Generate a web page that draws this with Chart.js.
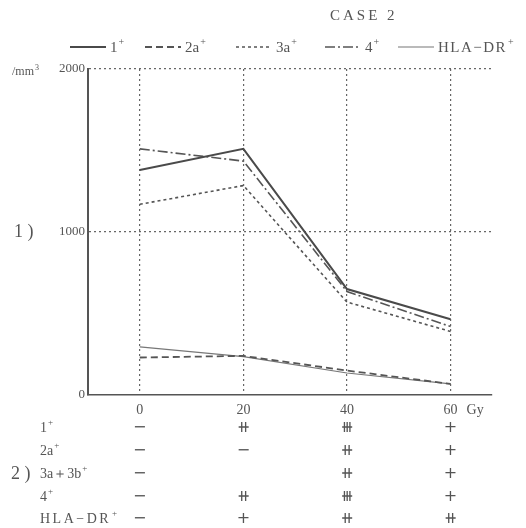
<!DOCTYPE html>
<html>
<head>
<meta charset="utf-8">
<script src="https://cdn.jsdelivr.net/npm/chart.js@4"></script>
<style>
  html, body { margin: 0; padding: 0; background: #fff; }
  #wrap { width: 526px; height: 528px; }
</style>
</head>
<body>
<div id="wrap"><canvas id="chart" width="526" height="528"></canvas></div>
<script>
// dose in Gy
const doses = [0, 20, 40, 60];
// cells /mm3
const cd1 = [1380, 1510, 650, 465];
const cd2a = [230, 240, 150, 68];
const cd3a = [1170, 1285, 570, 390];
const cd4 = [1510, 1435, 635, 420];
const hlaDr = [295, 235, 135, 68];

const yTicks = [0, 1000, 2000];

// part 2) table: row labels [base, superscript] and grades per dose
const rowLabels = [['1', '+'], ['2a', '+'], ['3a＋3b', '+'], ['4', '+'], ['HLA−DR', '+']];
const grades1 = ['-', '++', '+++', '+'];
const grades2a = ['-', '-', '++', '+'];
const grades3 = ['-', '', '++', '+'];
const grades4 = ['-', '++', '+++', '+'];
const gradesHla = ['-', '+', '++', '++'];

const INK = '#555';
const SERIF = '"Liberation Serif", "DejaVu Serif", serif';

const styles = [
  { label: '1', data: cd1, width: 2, dash: [], color: '#4a4a4a' },
  { label: '2a', data: cd2a, width: 1.8, dash: [7, 4], color: '#555' },
  { label: '3a', data: cd3a, width: 1.6, dash: [3, 3], color: '#555' },
  { label: '4', data: cd4, width: 1.6, dash: [10, 3, 2, 3], color: '#555' },
  { label: 'HLA−DR', data: hlaDr, width: 1.2, dash: [], color: '#777' }
];

function sup(ctx, base, s, x, y, size, align) {
  ctx.font = size + 'px ' + SERIF;
  const w = ctx.measureText(base).width;
  ctx.font = Math.round(size * 0.65) + 'px ' + SERIF;
  const ws = ctx.measureText(s).width;
  let x0 = x;
  if (align === 'center') x0 = x - (w + ws + 1) / 2;
  ctx.textAlign = 'left';
  ctx.textBaseline = 'middle';
  ctx.font = size + 'px ' + SERIF;
  ctx.fillText(base, x0, y);
  ctx.font = Math.round(size * 0.65) + 'px ' + SERIF;
  ctx.fillText(s, x0 + w + 1, y - size * 0.35);
}

function gradeText(g) {
  if (g === '-') return '−';
  if (g === '++') return '⧺';
  if (g === '+++') return '⧻';
  return g;
}

const annotations = {
  id: 'annotations',
  afterDraw(chart) {
    const ctx = chart.ctx;
    const xs = chart.scales.x;
    ctx.save();
    ctx.fillStyle = INK;

    // title
    ctx.font = '15px ' + SERIF;
    ctx.letterSpacing = '3px';
    ctx.textAlign = 'left';
    ctx.textBaseline = 'middle';
    ctx.fillText('CASE 2', 330, 16);
    ctx.letterSpacing = '0px';

    // legend
    const legendX = [70, 145, 236, 325, 398];
    styles.forEach((s, i) => {
      ctx.save();
      ctx.strokeStyle = s.color;
      ctx.lineWidth = s.width;
      ctx.setLineDash(s.dash);
      ctx.beginPath();
      ctx.moveTo(legendX[i], 47);
      ctx.lineTo(legendX[i] + 36, 47);
      ctx.stroke();
      ctx.restore();
      ctx.letterSpacing = i === 4 ? '1.5px' : '0px';
      sup(ctx, s.label, '+', legendX[i] + 40, 48, 15, 'left');
      ctx.letterSpacing = '0px';
    });

    // axis side labels
    sup(ctx, '/mm', '3', 12, 72, 12, 'left');
    ctx.font = '18px ' + SERIF;
    ctx.textAlign = 'left';
    ctx.fillText('1 )', 14, 232);
    ctx.fillText('2 )', 11, 474);

    // unit after the last x tick
    ctx.font = '14px ' + SERIF;
    ctx.fillText('Gy', xs.getPixelForValue(60) + 16, 410);

    // table
    const rowsY = [428, 451, 474, 497, 519];
    const grades = [grades1, grades2a, grades3, grades4, gradesHla];
    rowLabels.forEach((lab, r) => {
      ctx.letterSpacing = r === 4 ? '2.5px' : '0px';
      sup(ctx, lab[0], lab[1], 40, rowsY[r], 14, 'left');
      ctx.letterSpacing = '0px';
      ctx.font = '16px "DejaVu Sans", sans-serif';
      ctx.textAlign = 'center';
      ctx.textBaseline = 'middle';
      grades[r].forEach((g, c) => {
        ctx.fillText(gradeText(g), xs.getPixelForValue(doses[c]), rowsY[r]);
      });
    });
    ctx.restore();
  }
};

new Chart(document.getElementById('chart'), {
  type: 'line',
  data: {
    datasets: styles.map(s => ({
      label: s.label,
      data: doses.map((d, i) => ({ x: d, y: s.data[i] })),
      borderColor: s.color,
      borderWidth: s.width,
      borderDash: s.dash,
      pointRadius: 0,
      fill: false,
      tension: 0
    }))
  },
  options: {
    responsive: false,
    animation: false,
    layout: { padding: { left: 0, right: 34, top: 69, bottom: 0 } },
    plugins: { legend: { display: false }, tooltip: { enabled: false } },
    scales: {
      x: {
        type: 'linear',
        min: -10,
        max: 68,
        afterBuildTicks: s => { s.ticks = doses.map(v => ({ value: v })); },
        afterFit: s => { s.height = 133; },
        border: { display: true, color: '#555', width: 1.5, dash: [2, 3] },
        grid: { color: '#666', lineWidth: 1.2, drawTicks: false },
        ticks: { color: INK, font: { family: SERIF, size: 14 }, padding: 7, maxRotation: 0 }
      },
      y: {
        min: 0,
        max: 2000,
        afterBuildTicks: s => { s.ticks = yTicks.map(v => ({ value: v })); },
        afterFit: s => { s.width = 88; },
        border: { display: true, color: '#555', width: 2, dash: [2, 3] },
        grid: {
          color: c => (c.tick && c.tick.value === 0 ? 'rgba(0,0,0,0)' : '#666'),
          lineWidth: 1.2, drawTicks: false
        },
        ticks: {
          color: INK, font: { family: SERIF, size: 13 }, padding: 3,
          callback: v => String(v)
        }
      }
    }
  },
  plugins: [annotations]
});
</script>
</body>
</html>
